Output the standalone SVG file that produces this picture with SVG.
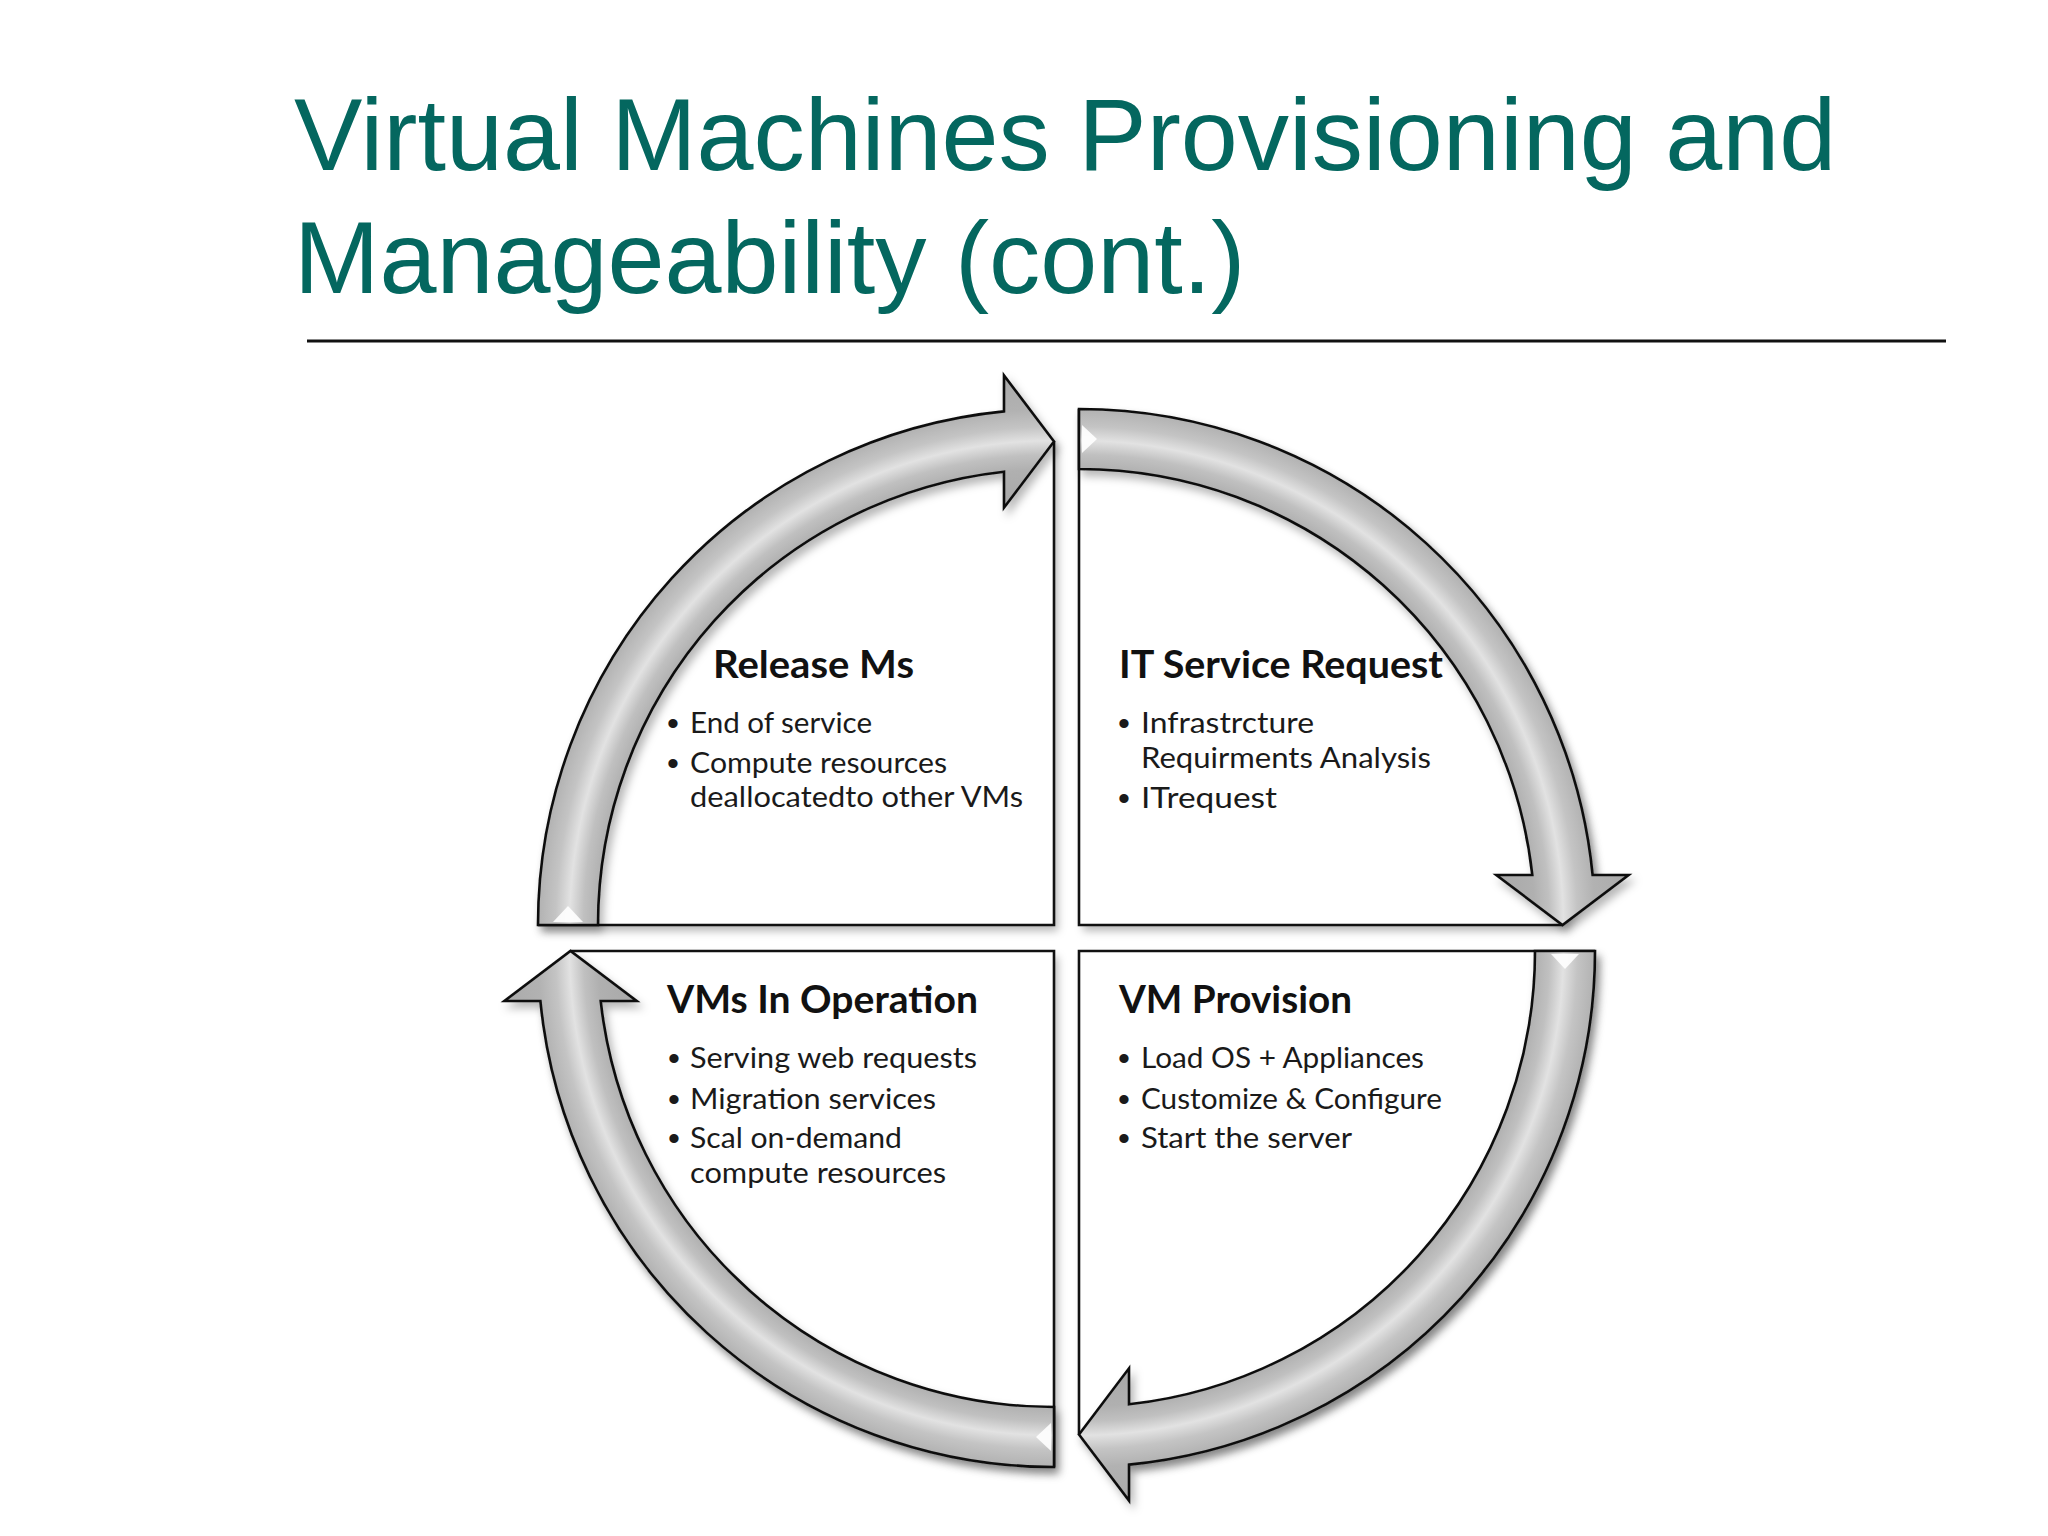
<svg xmlns="http://www.w3.org/2000/svg" width="2048" height="1536" viewBox="0 0 2048 1536">
<defs>
<style>
.title{font-family:"Liberation Sans",Arial,sans-serif;font-size:102.5px;fill:#04675f}
.head{font-family:Lato,"Open Sans",sans-serif;font-weight:bold;font-size:38px;fill:#111}
.item{font-family:Lato,"Open Sans",sans-serif;font-size:28px;fill:#1a1a1a}
.bul{font-family:"Liberation Sans",sans-serif;font-size:34px;fill:#1a1a1a}
.boxfill{fill:#fff;stroke:none;filter:url(#shadow)}
.edge{fill:none;stroke:#111;stroke-width:2.6}
.arrow{stroke:#111;stroke-width:2.6;stroke-linejoin:miter;filter:url(#shadow)}
.gleam{fill:#fff;opacity:0.9}
</style>
<filter id="shadow" x="-10%" y="-10%" width="130%" height="130%">
<feDropShadow dx="4" dy="6" stdDeviation="4" flood-color="#000" flood-opacity="0.28"/>
</filter>
<radialGradient id="gTL" gradientUnits="userSpaceOnUse" cx="1054" cy="925" r="560">
<stop offset="0.75" stop-color="#a8a8a8"/><stop offset="0.814" stop-color="#b0b0b0"/><stop offset="0.84" stop-color="#c0c0c0"/><stop offset="0.865" stop-color="#e2e2e2"/><stop offset="0.89" stop-color="#c4c4c4"/><stop offset="0.921" stop-color="#b2b2b2"/><stop offset="1" stop-color="#a8a8a8"/>
</radialGradient>
<radialGradient id="gTR" href="#gTL" cx="1079" cy="925"/>
<radialGradient id="gBR" href="#gTL" cx="1079" cy="951"/>
<radialGradient id="gBL" href="#gTL" cx="1054" cy="951"/>
</defs>
<rect width="2048" height="1536" fill="#fff"/>
<g id="title">
<text class="title" x="294" y="170">Virtual Machines Provisioning and</text>
<text class="title" x="294" y="293">Manageability (cont.)</text>
<line x1="307" y1="341" x2="1946" y2="341" stroke="#111" stroke-width="3"/>
</g>
<g id="node-release-ms">
<path class="boxfill" d="M1054,441.5 L1054,925 L538,925 A516,516 0 0 1 1004,411 Z"/>
<path class="edge" d="M1054,441.5 L1054,925 L538,925"/>
<text class="head" x="713" y="678" textLength="201" lengthAdjust="spacingAndGlyphs">Release Ms</text>
<text class="bul" x="667" y="735">•</text>
<text class="item" x="690" y="733" textLength="182" lengthAdjust="spacingAndGlyphs">End of service</text>
<text class="bul" x="667" y="775">•</text>
<text class="item" x="690" y="773" textLength="257" lengthAdjust="spacingAndGlyphs">Compute resources</text>
<text class="item" x="690" y="807" textLength="333" lengthAdjust="spacingAndGlyphs">deallocatedto other VMs</text>
</g>
<g id="node-it-service-request">
<path class="boxfill" d="M1079,409 A516,516 0 0 1 1592.6,875 L1562.5,925 L1079,925 Z"/>
<path class="edge" d="M1079,409 L1079,925 L1562.5,925"/>
<text class="head" x="1119" y="678" textLength="324" lengthAdjust="spacingAndGlyphs">IT Service Request</text>
<text class="bul" x="1118" y="735">•</text>
<text class="item" x="1141" y="733" textLength="173" lengthAdjust="spacingAndGlyphs">Infrastrcture</text>
<text class="item" x="1141" y="768" textLength="290" lengthAdjust="spacingAndGlyphs">Requirments Analysis</text>
<text class="bul" x="1118" y="810">•</text>
<text class="item" x="1141" y="808" textLength="136" lengthAdjust="spacingAndGlyphs">ITrequest</text>
</g>
<g id="node-vm-provision">
<path class="boxfill" d="M1595,951 A516,516 0 0 1 1129,1464.6 L1079,1434.5 L1079,951 Z"/>
<path class="edge" d="M1595,951 L1079,951 L1079,1434.5"/>
<text class="head" x="1119" y="1013" textLength="233" lengthAdjust="spacingAndGlyphs">VM Provision</text>
<text class="bul" x="1118" y="1070">•</text>
<text class="item" x="1141" y="1068" textLength="283" lengthAdjust="spacingAndGlyphs">Load OS + Appliances</text>
<text class="bul" x="1118" y="1111">•</text>
<text class="item" x="1141" y="1109" textLength="301" lengthAdjust="spacingAndGlyphs">Customize &amp; Configure</text>
<text class="bul" x="1118" y="1150">•</text>
<text class="item" x="1141" y="1148" textLength="211" lengthAdjust="spacingAndGlyphs">Start the server</text>
</g>
<g id="node-vms-in-operation">
<path class="boxfill" d="M1054,1467 A516,516 0 0 1 540.4,1001 L570.5,951 L1054,951 Z"/>
<path class="edge" d="M570.5,951 L1054,951 L1054,1467"/>
<text class="head" x="667" y="1013" textLength="311" lengthAdjust="spacingAndGlyphs">VMs In Operation</text>
<text class="bul" x="668" y="1070">•</text>
<text class="item" x="690" y="1068" textLength="287" lengthAdjust="spacingAndGlyphs">Serving web requests</text>
<text class="bul" x="668" y="1111">•</text>
<text class="item" x="690" y="1109" textLength="246" lengthAdjust="spacingAndGlyphs">Migration services</text>
<text class="bul" x="668" y="1150">•</text>
<text class="item" x="690" y="1148" textLength="212" lengthAdjust="spacingAndGlyphs">Scal on-demand</text>
<text class="item" x="690" y="1183" textLength="256" lengthAdjust="spacingAndGlyphs">compute resources</text>
</g>
<g id="connectors">
<path class="arrow" fill="url(#gTL)" d="M538,925 A516,516 0 0 1 1004,411.4 L1004,375.4 L1054,441.5 L1004,507.7 L1004,471.7 A456,456 0 0 0 598,925 Z"/>
<path class="arrow" fill="url(#gTR)" d="M1079,409 A516,516 0 0 1 1592.6,875 L1628.6,875 L1562.5,925 L1496.3,875 L1532.3,875 A456,456 0 0 0 1079,469 Z"/>
<path class="arrow" fill="url(#gBR)" d="M1595,951 A516,516 0 0 1 1129,1464.6 L1129,1500.6 L1079,1434.5 L1129,1368.3 L1129,1404.3 A456,456 0 0 0 1535,951 Z"/>
<path class="arrow" fill="url(#gBL)" d="M1054,1467 A516,516 0 0 1 540.4,1001 L504.4,1001 L570.5,951 L636.7,1001 L600.7,1001 A456,456 0 0 0 1054,1407 Z"/>
<polygon class="gleam" points="553,922 568,906 583,922"/>
<polygon class="gleam" points="1082,425 1097,439 1082,453"/>
<polygon class="gleam" points="1551,954 1565,969 1579,954"/>
<polygon class="gleam" points="1051,1423 1036,1437 1051,1451"/>
</g>
</svg>
